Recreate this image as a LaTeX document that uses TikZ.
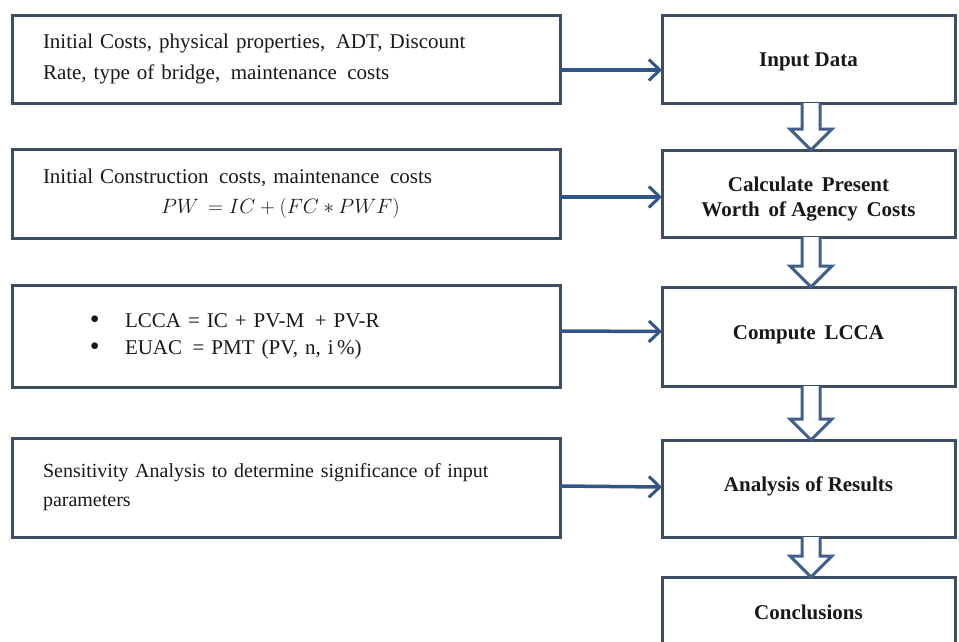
\documentclass[tikz,border=0pt]{standalone}
\usepackage{fontspec}
\setmainfont{Liberation Serif}
\usetikzlibrary{arrows.meta,calc}
\definecolor{boxline}{RGB}{62,78,98}
\definecolor{arrowblue}{RGB}{48,86,136}
\definecolor{hollowblue}{RGB}{64,96,138}
\definecolor{txt}{RGB}{25,25,25}
\tikzset{
  box/.style={draw=boxline, line width=3pt, fill=white, rectangle, inner sep=0pt, outer sep=0pt, text=txt},
  leftbox/.style={box, minimum width=548pt, align=left, text width=486pt, font=\fontsize{21}{31}\selectfont},
  rightbox/.style={box, minimum width=293pt, align=center, font=\fontsize{21}{25}\selectfont\bfseries},
  rtext/.style={align=center, text=txt, inner sep=0pt, font=\fontsize{21}{25}\selectfont\bfseries},
  harrow/.style={draw=arrowblue, line width=3.5pt, -{Straight Barb[length=11pt,width=21pt,line width=3pt]}},
  hollow/.style={draw=hollowblue, line width=3pt, fill=white, line join=miter},
}
\newcommand\hollowdown[2]{%
  \coordinate (ht) at ([xshift=2.5pt]#1.south);
  \coordinate (hb) at ([xshift=2.5pt]#2.north);
  \path[hollow] ($(ht)+(-9,0)$) -- ($(hb)+(-9,-21)$) -- ($(hb)+(-21,-21)$) -- (hb) -- ($(hb)+(21,-21)$) -- ($(hb)+(9,-21)$) -- ($(ht)+(9,0)$);
}
\newcommand\bigbullet{\makebox[35pt][l]{\raisebox{-1pt}{\fontsize{28}{28}\selectfont\textbullet}}}
\begin{document}
\begin{tikzpicture}[x=1pt,y=-1pt]
\useasboundingbox (0,0) rectangle (959,641);
\clip (0,0) rectangle (959,641);
\fill[white] (0,0) rectangle (959,641);

% left boxes
\node[leftbox, minimum height=88pt] (l1) at (286,59)
  {Initial Costs, physical properties,\, ADT, Discount\\Rate, type of bridge,\, maintenance\, costs};
\node[leftbox, minimum height=89pt, font=\fontsize{21}{30}\selectfont] (l2) at (286,193.5)
  {Initial Construction\, costs, maintenance\, costs\\\hspace*{118pt}$PW\, = IC + (FC \ast PWF)$};
\node[leftbox, minimum height=102pt, font=\fontsize{21}{27}\selectfont] (l3) at (286,336)
  {\hspace*{47pt}\bigbullet LCCA = IC + PV-M\, + PV-R\\\hspace*{47pt}\bigbullet EUAC\, = PMT (PV, n, i\,\%)};
\node[leftbox, minimum height=99pt, font=\fontsize{20}{29}\selectfont] (l4) at (286,487.5)
  {Sensitivity Analysis to determine significance of input\\parameters};

% right boxes
\node[rightbox, minimum height=88pt] (r1) at (808.5,59) {};
\node[rtext] (r1t) at ([yshift=-3pt]r1.center) {Input Data};
\node[rightbox, minimum height=87pt] (r2) at (808.5,193.5) {};
\node[rtext] (r2t) at ([yshift=-6pt]r2.center) {Calculate\, Present\\Worth\, of Agency\, Costs};
\node[rightbox, minimum height=99pt] (r3) at (808.5,336.5) {};
\node[rtext] (r3t) at ([yshift=2pt]r3.center) {Compute\, LCCA};
\node[rightbox, minimum height=97pt] (r4) at (808.5,488.5) {};
\node[rtext] (r4t) at ([yshift=2pt]r4.center) {Analysis of Results};
\node[rightbox, minimum height=70pt] (r5) at (808.5,612) {};
\node[rtext] (r5t) at (r5.center) {Conclusions};

% horizontal arrows
\draw[harrow] ([yshift=-11pt]l1.east) -- ([yshift=-11pt]r1.west);
\draw[harrow] ([yshift=-3.5pt]l2.east) -- ([yshift=-3.5pt]r2.west);
\draw[harrow] ([yshift=5pt]l3.east) -- ([yshift=5pt]r3.west);
\draw[harrow] ([yshift=1.5pt]l4.east) -- ([yshift=1.5pt]r4.west);

% hollow down arrows
\hollowdown{r1}{r2}
\hollowdown{r2}{r3}
\hollowdown{r3}{r4}
\hollowdown{r4}{r5}
\end{tikzpicture}
\end{document}
